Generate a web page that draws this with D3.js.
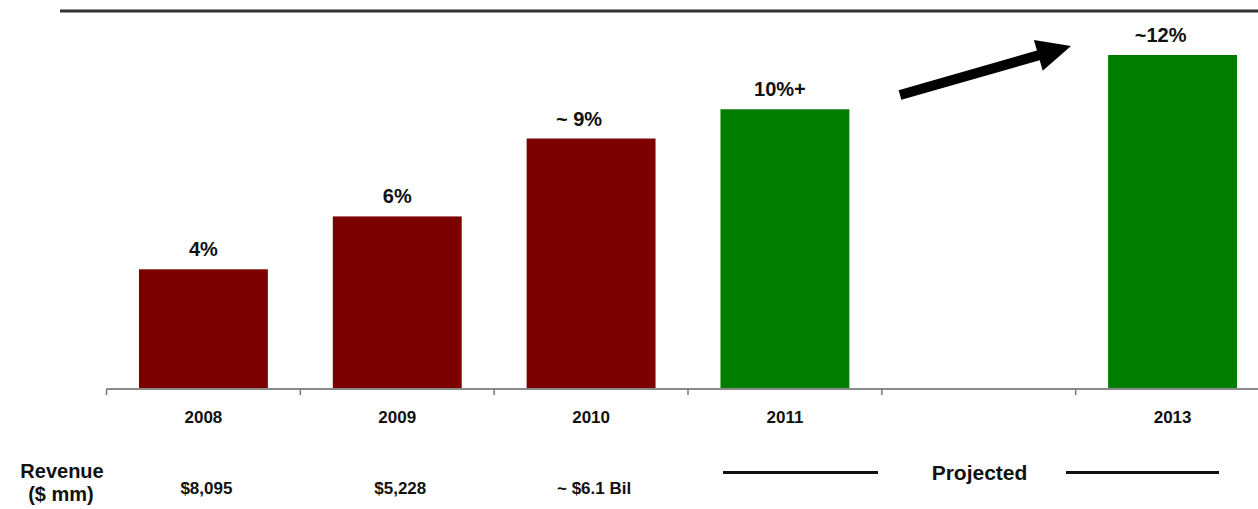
<!DOCTYPE html>
<html>
<head>
<meta charset="utf-8">
<script src="https://cdn.jsdelivr.net/npm/d3@7/dist/d3.min.js"></script>
<style>
  html, body { margin: 0; padding: 0; background: #fff; }
  svg { display: block; }
  text { font-family: "Liberation Sans", Arial, Helvetica, sans-serif; font-weight: bold; fill: #111; }
</style>
</head>
<body>
<svg id="chart" width="1258" height="509"></svg>
<script>
// ---- data ----
const categories = ["2008", "2009", "2010", "2011", "2012", "2013"];
const tickLabels = ["2008", "2009", "2010", "2011", "", "2013"];
const marginValues = [4.3, 6.2, 9.0, 10.05, null, 12.0];
const marginLabels = ["4%", "6%", "~ 9%", "10%+", "", "~12%"];
const barKind = ["actual", "actual", "actual", "projected", null, "projected"];
const revenueLabels = ["$8,095", "$5,228", "~ $6.1 Bil"];
const projectedLabel = "Projected";
const revenueTitle = ["Revenue", "($ mm)"];

const colors = { actual: "#7d0000", projected: "#007c00" };

const svg = d3.select("#chart");
const W = 1258, H = 509;

const x = d3.scaleBand()
  .domain(categories)
  .range([106.5, 1269.5])
  .paddingInner(0.335)
  .paddingOuter(0.1675);

const y = d3.scaleLinear().domain([0, 12]).range([389, 55]);

// top rule
svg.append("line")
  .attr("x1", 60).attr("x2", W)
  .attr("y1", 11).attr("y2", 11)
  .attr("stroke", "#333").attr("stroke-width", 3);

// bars
const data = categories.map((c, i) => ({ c, v: marginValues[i], kind: barKind[i], label: marginLabels[i] }))
  .filter(d => d.v != null);

svg.append("g").selectAll("rect")
  .data(data)
  .join("rect")
  .attr("x", d => x(d.c))
  .attr("width", x.bandwidth())
  .attr("y", d => y(d.v))
  .attr("height", d => y(0) - y(d.v))
  .attr("fill", d => colors[d.kind]);

// value labels (labels with a leading tilde hang slightly left)
svg.append("g").selectAll("text")
  .data(data)
  .join("text")
  .attr("x", d => x(d.c) + x.bandwidth() / 2 - (d.label.startsWith("~") ? 12 : (d.label.endsWith("+") ? 5 : 0)))
  .attr("y", d => y(d.v) - 13)
  .attr("text-anchor", "middle")
  .style("font-size", "20px")
  .text(d => d.label);

// x axis (labels via d3 axis)
const axis = d3.axisBottom(x)
  .tickSize(0)
  .tickPadding(22)
  .tickFormat((d, i) => tickLabels[i]);

const gx = svg.append("g")
  .attr("transform", `translate(0,${y(0)})`)
  .call(axis);
gx.select(".domain").remove();
gx.selectAll("text")
  .style("font-family", "'Liberation Sans', Arial, sans-serif")
  .style("font-weight", "bold")
  .style("font-size", "17px")
  .attr("fill", "#111");

// axis line and boundary ticks
svg.append("line")
  .attr("x1", x.range()[0]).attr("x2", W)
  .attr("y1", y(0)).attr("y2", y(0))
  .attr("stroke", "#8a8a8a").attr("stroke-width", 2);

const boundaries = categories.map(c => x(c) - x.step() * x.paddingInner() / 2);
svg.append("g").selectAll("line")
  .data(boundaries)
  .join("line")
  .attr("x1", d => d).attr("x2", d => d)
  .attr("y1", y(0)).attr("y2", y(0) + 6)
  .attr("stroke", "#777").attr("stroke-width", 1.5);

// growth arrow
(function () {
  const x0 = 900, y0 = 95, x1 = 1071, y1 = 46;
  const ang = Math.atan2(y1 - y0, x1 - x0);
  const headLen = 34, headW = 16, shaftW = 5;
  const ux = Math.cos(ang), uy = Math.sin(ang);
  const px = -uy, py = ux;
  const bx = x1 - ux * headLen, by = y1 - uy * headLen;
  const pts = [
    [x0 + px * shaftW, y0 + py * shaftW],
    [bx + px * shaftW, by + py * shaftW],
    [bx + px * headW, by + py * headW],
    [x1, y1],
    [bx - px * headW, by - py * headW],
    [bx - px * shaftW, by - py * shaftW],
    [x0 - px * shaftW, y0 - py * shaftW]
  ];
  svg.append("path")
    .attr("d", d3.line()(pts) + "Z")
    .attr("fill", "#000");
})();

// revenue row
svg.append("text").attr("x", 62).attr("y", 478)
  .attr("text-anchor", "middle").style("font-size", "20px").text(revenueTitle[0]);
svg.append("text").attr("x", 61).attr("y", 501)
  .attr("text-anchor", "middle").style("font-size", "20px").text(revenueTitle[1]);

svg.append("g").selectAll("text")
  .data(revenueLabels)
  .join("text")
  .attr("x", (d, i) => x(categories[i]) + x.bandwidth() / 2 + 3)
  .attr("y", 494)
  .attr("text-anchor", "middle")
  .style("font-size", "17px")
  .text(d => d);

// projected marker
svg.append("line").attr("x1", 723).attr("x2", 878).attr("y1", 472.5).attr("y2", 472.5)
  .attr("stroke", "#111").attr("stroke-width", 3);
svg.append("line").attr("x1", 1066).attr("x2", 1219).attr("y1", 472.5).attr("y2", 472.5)
  .attr("stroke", "#111").attr("stroke-width", 3);
svg.append("text").attr("x", 979.5).attr("y", 480)
  .attr("text-anchor", "middle").style("font-size", "21px").text(projectedLabel);
</script>
</body>
</html>
